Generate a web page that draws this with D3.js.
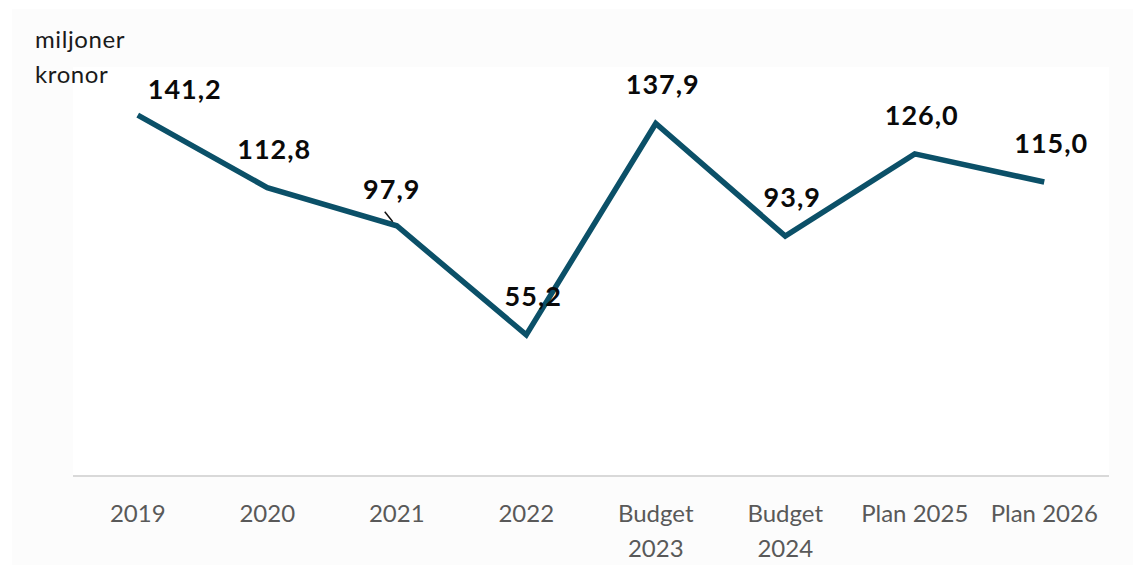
<!DOCTYPE html>
<html>
<head>
<meta charset="utf-8">
<script src="https://cdn.jsdelivr.net/npm/d3@7"></script>
<style>
  html, body { margin: 0; padding: 0; background: #ffffff; }
  svg { display: block; }
  text { font-family: Lato, "Open Sans", sans-serif; }
</style>
</head>
<body>
<svg id="chart" width="1133" height="565"></svg>
<script>
// ---- data ----
const categories = ["2019", "2020", "2021", "2022", "Budget 2023", "Budget 2024", "Plan 2025", "Plan 2026"];
const tickLines = [["2019"], ["2020"], ["2021"], ["2022"], ["Budget", "2023"], ["Budget", "2024"], ["Plan 2025"], ["Plan 2026"]];
const values = [141.2, 112.8, 97.9, 55.2, 137.9, 93.9, 126.0, 115.0];
const valueLabels = ["141,2", "112,8", "97,9", "55,2", "137,9", "93,9", "126,0", "115,0"];
const unitLabel = ["miljoner", "kronor"];
const yDomain = [0, 160];

// ---- layout ----
const W = 1133, H = 565;
const plot = { left: 73, right: 1109, top: 67, bottom: 476 };

const svg = d3.select("#chart");

// outer grey chart area
svg.append("rect").attr("x", 12).attr("y", 9).attr("width", W - 12).attr("height", H - 9).attr("fill", "#fcfcfc");
// white plot area
svg.append("rect").attr("x", plot.left).attr("y", plot.top)
  .attr("width", plot.right - plot.left).attr("height", plot.bottom - plot.top).attr("fill", "#ffffff");

const x = d3.scaleBand().domain(categories).range([plot.left, plot.right]).padding(0);
const y = d3.scaleLinear().domain(yDomain).range([plot.bottom, plot.top]);
const cx = c => x(c) + x.bandwidth() / 2;

// x axis
const xAxis = d3.axisBottom(x).tickSize(0).tickPadding(0).tickFormat("");
const gx = svg.append("g").attr("transform", `translate(0,${plot.bottom})`).call(xAxis);
gx.select(".domain").attr("stroke", "#d9d9d9").attr("stroke-width", 2).attr("d", `M${plot.left},0H${plot.right}`);
gx.selectAll(".tick").each(function(d, i) {
  const t = d3.select(this).append("text")
    .attr("fill", "#595959").attr("font-size", 24).attr("text-anchor", "middle")
    .attr("y", 46);
  tickLines[i].forEach((ln, k) => {
    t.append("tspan").attr("x", 0).attr("dy", k === 0 ? 0 : 35).text(ln);
  });
});

// unit label
const ut = svg.append("text").attr("x", 35).attr("y", 48).attr("fill", "#1a1a1a")
  .attr("font-size", 24).attr("letter-spacing", 0.6);
unitLabel.forEach((ln, k) => ut.append("tspan").attr("x", 35).attr("dy", k === 0 ? 0 : 35).text(ln));

// line
const line = d3.line().x((d, i) => cx(categories[i])).y(d => y(d));
svg.append("path").datum(values).attr("d", line)
  .attr("fill", "none").attr("stroke", "#0b5068").attr("stroke-width", 5.5)
  .attr("stroke-linejoin", "miter").attr("stroke-linecap", "butt");

// data labels
const labelOffset = i => i === 0 ? [47, -16] : i === 2 ? [-5, -27] : [7, -29];
svg.append("g").selectAll("text").data(values).join("text")
  .attr("x", (d, i) => cx(categories[i]) + labelOffset(i)[0])
  .attr("y", (d, i) => y(d) + labelOffset(i)[1])
  .attr("text-anchor", "middle").attr("font-size", 27).attr("font-weight", 700)
  .attr("fill", "#0a0a0a").attr("letter-spacing", 1)
  .text((d, i) => valueLabels[i]);

// leader line for 2021 label
const lx = cx(categories[2]), ly = y(values[2]);
svg.append("line").attr("x1", lx - 12).attr("y1", ly - 14).attr("x2", lx - 4).attr("y2", ly - 4)
  .attr("stroke", "#111").attr("stroke-width", 1.5);
</script>
</body>
</html>
